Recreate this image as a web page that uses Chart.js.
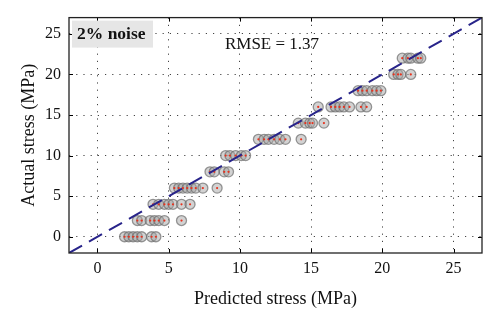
<!DOCTYPE html>
<html>
<head>
<meta charset="utf-8">
<script src="https://cdn.jsdelivr.net/npm/chart.js@4/dist/chart.umd.min.js"></script>
<style>
html,body{margin:0;padding:0;background:#fff;}
#wrap{width:500px;height:323px;position:relative;}
</style>
</head>
<body>
<div id="wrap"><canvas id="c" width="500" height="323"></canvas></div>
<script>
// Actual stress levels and predicted values for each level (MPa)
const level0  = [1.9, 2.2, 2.5, 2.8, 3.1, 3.8, 4.1];
const level2  = [2.8, 3.1, 3.7, 4.0, 4.3, 4.7, 5.9];
const level4  = [3.9, 4.3, 4.7, 5.0, 5.3, 5.9, 6.5];
const level6  = [5.4, 5.7, 6.0, 6.3, 6.6, 6.9, 7.4, 8.4];
const level8  = [7.9, 8.2, 8.9, 9.2];
const level10 = [9.0, 9.3, 9.7, 10.1, 10.4];
const level12 = [11.3, 11.7, 12.0, 12.4, 12.8, 13.2, 14.3];
const level14 = [14.1, 14.6, 14.9, 15.1, 15.9];
const level16 = [15.5, 16.4, 16.7, 17.0, 17.3, 17.7, 18.5, 18.9];
const level18 = [18.3, 18.6, 18.9, 19.3, 19.6, 19.9];
const level20 = [20.8, 21.1, 21.3, 22.0];
const level22 = [21.4, 21.8, 22.0, 22.5, 22.7];
const actualLevels = [0, 2, 4, 6, 8, 10, 12, 14, 16, 18, 20, 22];
const predictedByLevel = [level0, level2, level4, level6, level8, level10, level12, level14, level16, level18, level20, level22];
const xTicks = [0, 5, 10, 15, 20, 25];
const yTicks = [0, 5, 10, 15, 20, 25];
const axisRange = [-2, 27];
const refLine = [-2, 27];
const rmseText = "RMSE = 1.37";
const noiseLabel = "2% noise";

const points = [];
actualLevels.forEach((a, i) => predictedByLevel[i].forEach(p => points.push({x: p, y: a})));

const SERIF = "'Liberation Serif', 'DejaVu Serif', serif";

const frame = {
  id: 'frame',
  afterDraw(chart) {
    const {ctx, chartArea: a, scales} = chart;
    ctx.save();
    ctx.strokeStyle = '#000';
    ctx.lineWidth = 1;
    const L = 4;
    ctx.beginPath();
    xTicks.forEach(v => {
      const px = Math.round(scales.x.getPixelForValue(v)) + 0.5;
      ctx.moveTo(px, a.bottom); ctx.lineTo(px, a.bottom - L);
      ctx.moveTo(px, a.top); ctx.lineTo(px, a.top + L);
    });
    yTicks.forEach(v => {
      const py = Math.round(scales.y.getPixelForValue(v)) + 0.5;
      ctx.moveTo(a.left, py); ctx.lineTo(a.left + L, py);
      ctx.moveTo(a.right, py); ctx.lineTo(a.right - L, py);
    });
    ctx.stroke();
    ctx.strokeStyle = '#222';
    ctx.lineWidth = 1.3;
    ctx.strokeRect(a.left, a.top, a.right - a.left, a.bottom - a.top);
    ctx.fillStyle = '#e6e6e6';
    ctx.fillRect(a.left + 3, a.top + 3, 81, 27);
    ctx.fillStyle = '#111';
    ctx.font = "bold 17.5px " + SERIF;
    ctx.textBaseline = 'middle';
    ctx.textAlign = 'left';
    ctx.fillText(noiseLabel, a.left + 8, a.top + 17);
    ctx.font = "17px " + SERIF;
    ctx.textAlign = 'center';
    ctx.fillText(rmseText, 272, 45);
    ctx.restore();
  }
};

new Chart(document.getElementById('c'), {
  type: 'scatter',
  data: {
    datasets: [
      {
        type: 'line',
        data: refLine.map(v => ({x: v, y: v})),
        borderColor: '#28248a',
        borderWidth: 2,
        borderDash: [15, 8],
        pointRadius: 0,
        fill: false,
        order: 0
      },
      {
        data: points,
        pointRadius: 5,
        pointBackgroundColor: 'rgba(165,165,165,0.5)',
        pointBorderColor: 'rgba(110,110,110,0.7)',
        pointBorderWidth: 1.3,
        order: 2
      },
      {
        data: points,
        pointRadius: 1.1,
        pointBackgroundColor: '#e8321e',
        pointBorderWidth: 0,
        order: 1
      }
    ]
  },
  options: {
    responsive: false,
    animation: false,
    events: [],
    layout: {padding: {left: 0, right: 18, top: 17, bottom: 0}},
    plugins: {legend: {display: false}, tooltip: {enabled: false}},
    scales: {
      x: {
        type: 'linear',
        min: axisRange[0], max: axisRange[1],
        afterBuildTicks: s => { s.ticks = xTicks.map(v => ({value: v})); },
        afterFit: s => { s.height = 70; },
        ticks: {font: {family: SERIF, size: 16}, color: '#111', padding: 6},
        grid: {color: '#444', lineWidth: 1, drawTicks: false},
        border: {display: false, dash: [1.2, 6]},
        title: {display: true, text: 'Predicted stress (MPa)', font: {family: SERIF, size: 18}, color: '#111', padding: {top: 8, bottom: 13}}
      },
      y: {
        type: 'linear',
        min: axisRange[0], max: axisRange[1],
        afterBuildTicks: s => { s.ticks = yTicks.map(v => ({value: v})); },
        afterFit: s => { s.width = 69; },
        ticks: {font: {family: SERIF, size: 16}, color: '#111', padding: 8},
        grid: {color: '#444', lineWidth: 1, drawTicks: false},
        border: {display: false, dash: [1.2, 6]},
        title: {display: true, text: 'Actual stress (MPa)', font: {family: SERIF, size: 18}, color: '#111', padding: {top: 18, bottom: 0}}
      }
    }
  },
  plugins: [frame]
});
</script>
</body>
</html>
